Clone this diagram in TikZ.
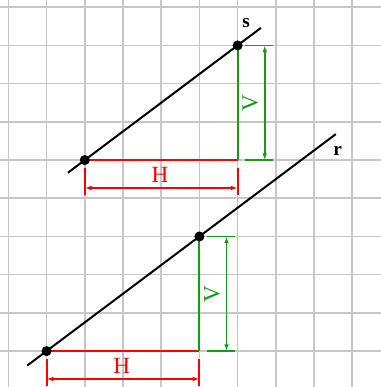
\documentclass[tikz,border=0pt]{standalone}
\usepackage{fontspec}
\setmainfont{Liberation Serif}
\usetikzlibrary{arrows.meta}
\definecolor{vgreen}{RGB}{22,155,22}

\begin{document}
\begin{tikzpicture}[
  gridln/.style={draw=black!22, line width=1.2pt},
  ln/.style={line width=1.5pt, draw=black},
  dot/.style={circle, fill=black, inner sep=0pt, minimum size=7.5pt},
  hlen/.style={line width=1.4pt, draw=red},
  vlen/.style={line width=1.4pt, draw=vgreen},
  dim/.style={line width=1.4pt, {Latex[length=5pt,width=3.5pt]}-{Latex[length=5pt,width=3.5pt]}},
  lbl/.style={font=\Large\bfseries, inner sep=0pt},
  hlbl/.style={font=\LARGE, text=red, inner sep=0pt},
  vlbl/.style={font=\LARGE, text=vgreen, inner sep=0pt, rotate=90}
]
  \useasboundingbox (-0.22,-0.94) rectangle (9.75,9.19);
  \fill[white] (-0.22,-0.94) rectangle (9.75,9.19);
  \draw[gridln] (-0.22,-0.94) grid (9.75,9.19);

  % line s
  \coordinate (sa) at (1.56,4.67);
  \coordinate (sb) at (6.61,8.46);
  \coordinate (sc) at (6,5);
  \draw[hlen] (2,5) -- (sc);
  \draw[vlen] (6,8) -- (sc);
  \draw[ln] (sa) -- (sb);
  \node[dot] (s1) at (2,5) {};
  \node[dot] (s2) at (6,8) {};
  \node[lbl] (slbl) at (6.22,8.58) {s};
  \draw[vlen] (6.2,8) -- (6.93,8);
  \draw[vlen] (6.2,5) -- (6.93,5);
  \draw[vlen, dim] (6.71,8) -- (6.71,5);
  \node[vlbl] (sv) at (6.33,6.5) {V};
  \draw[hlen] (2,4.78) -- (2,4.08);
  \draw[hlen] (6,4.78) -- (6,4.08);
  \draw[hlen, dim] (2,4.27) -- (6,4.27);
  \node[hlbl] (sh) at (3.97,4.6) {H};

  % line r
  \coordinate (ra) at (0.49,-0.38);
  \coordinate (rb) at (8.57,5.68);
  \coordinate (rc) at (5,0);
  \draw[hlen] (1,0) -- (rc);
  \draw[vlen] (5,3) -- (rc);
  \draw[ln] (ra) -- (rb);
  \node[dot] (r1) at (1,0) {};
  \node[dot] (r2) at (5,3) {};
  \node[lbl] (rlbl) at (8.62,5.24) {r};
  \draw[vlen] (5.2,3) -- (5.93,3);
  \draw[vlen] (5.2,0) -- (5.93,0);
  \draw[vlen, dim] (5.71,3) -- (5.71,0);
  \node[vlbl] (rv) at (5.33,1.5) {V};
  \draw[hlen] (1,-0.22) -- (1,-0.92);
  \draw[hlen] (5,-0.22) -- (5,-0.92);
  \draw[hlen, dim] (1,-0.73) -- (5,-0.73);
  \node[hlbl] (rh) at (2.97,-0.4) {H};
\end{tikzpicture}
\end{document}
